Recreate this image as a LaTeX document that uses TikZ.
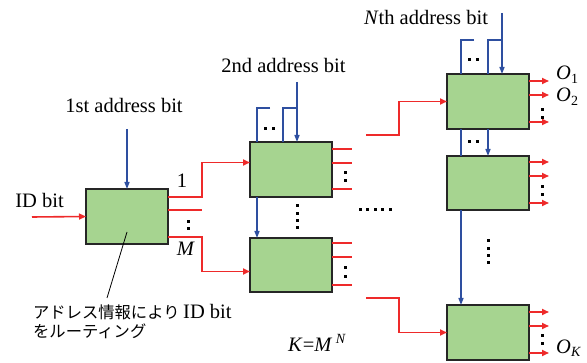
\documentclass[tikz,border=0pt]{standalone}
\usepackage{fontspec}
\setmainfont{Liberation Serif}
\newfontfamily\jp{Noto Sans CJK JP}
\usetikzlibrary{arrows.meta}
\definecolor{boxgreen}{HTML}{A6D490}
\definecolor{sigred}{HTML}{EE2A2A}
\definecolor{addrblue}{HTML}{2E4FA0}
\begin{document}
\begin{tikzpicture}[x=1pt,y=-1pt,
  swbox/.style={draw=black!85, line width=1.5pt, fill=boxgreen, minimum width=82pt, minimum height=55pt, inner sep=0pt, outer sep=0pt},
  redln/.style={draw=sigred, line width=1.6pt},
  redar/.style={redln, -{Triangle[length=7pt,width=6pt]}},
  blueln/.style={draw=addrblue, line width=1.4pt},
  bluear/.style={blueln, -{Triangle[length=7pt,width=5pt]}},
  lbl/.style={font=\fontsize{20.5}{24}\selectfont, inner sep=0pt},
  jptxt/.style={font=\jp\fontsize{16.3}{19}\selectfont, inner sep=0pt, anchor=base west}
]
\useasboundingbox (0,0) rectangle (587,363);

% boxes
\node[swbox] (b1) at (127,216.5) {};
\node[swbox] (b2) at (291,169.5) {};
\node[swbox, minimum height=54pt] (b3) at (291,265) {};
\node[swbox] (b4) at (488,101.5) {};
\node[swbox, minimum height=54pt] (b5) at (488,183) {};
\node[swbox] (b6) at (488,332.5) {};

% stage 1
\coordinate (idin) at (32,217);
\draw[redar] (idin) -- (b1.west);
\coordinate (a1) at (127,129);
\draw[bluear] (a1) -- (b1.north);
\draw[redar] (b1.east |- 0,197) -- (202,197) |- (b2.west |- 0,162.5);
\draw[redln] (b1.east |- 0,210) -- (202,210);
\draw[redar] (b1.east |- 0,237) -- (202,237) |- (b3.west |- 0,271.5);
\fill (186.5,220.5) rectangle ++(3,3);
\fill (186.5,227.5) rectangle ++(3,3);

% stage 2
\coordinate (a2) at (297,82);
\draw[bluear] (a2) -- (b2.north -| 297,0);
\draw[blueln] (297,108) -- (283,108) -- (b2.north -| 283,0);
\draw[blueln] (270,108) -- (257,108) -- (b2.north -| 257,0);
\draw[bluear] (b2.south -| 257,0) -- (b3.north -| 257,0);
\fill (263.5,127.5) rectangle ++(3,3);
\fill (271.5,127.5) rectangle ++(3,3);
\foreach \y in {149,163,189} \draw[redln] (b2.east |- 0,\y) -- (352,\y);
\foreach \y in {243,257,285} \draw[redln] (b3.east |- 0,\y) -- (352,\y);
\foreach \y in {173,181,268,277} \fill (343.5,\y-1.5) rectangle ++(3,3);
\foreach \y in {206,213.5,221,228} \fill (295.5,\y-1.5) rectangle ++(3,3);

% middle dots
\foreach \x in {360,367.5,375,382.5,390} \fill (\x-1.5,208.5) rectangle ++(3,3);

% stage N
\coordinate (aN) at (502,13);
\draw[bluear] (aN) -- (b4.north -| 502,0);
\draw[blueln] (502,40) -- (488,40) -- (b4.north -| 488,0);
\draw[blueln] (474,40) -- (461,40) -- (b4.north -| 461,0);
\fill (467.5,58.5) rectangle ++(3,3);
\fill (475.5,58.5) rectangle ++(3,3);
\draw[blueln] (b4.south -| 461,0) -- (b5.north -| 461,0);
\draw[bluear] (b4.south -| 488,0) -- (b5.north -| 488,0);
\fill (467.5,140.5) rectangle ++(3,3);
\fill (475.5,140.5) rectangle ++(3,3);
\draw[bluear] (b5.south -| 461,0) -- (b6.north -| 461,0);
\foreach \y in {241,248.5,256,263} \fill (486.5,\y-1.5) rectangle ++(3,3);

\coordinate (i4) at (366,135);
\draw[redar] (i4) -- (399,135) |- (b4.west);
\coordinate (i6) at (366,298);
\draw[redar] (i6) -- (399,298) |- (b6.west);

\foreach \y in {81,95,122} \draw[redar] (b4.east |- 0,\y) -- (549,\y);
\foreach \y in {162,176,203} \draw[redar] (b5.east |- 0,\y) -- (549,\y);
\foreach \y in {312,326,353} \draw[redar] (b6.east |- 0,\y) -- (549,\y);
\foreach \y in {110,117.5,187,195,336,344} \fill (540.5,\y-1.5) rectangle ++(3,3);

% leader
\coordinate (ls) at (127,232);
\coordinate (le) at (107,298);
\draw[line width=0.8pt] (ls) -- (le);

% labels
\node[lbl, anchor=base] (t1) at (124,113) {1st address bit};
\node[lbl, anchor=base] (t2) at (283.5,73) {2nd address bit};
\node[lbl, anchor=base] (tN) at (426,25) {\textit{N}th address bit};
\node[lbl, anchor=base] (tid) at (39.5,208) {ID bit};
\node[lbl, anchor=base] (l1) at (182,188) {1};
\node[lbl, anchor=base] (lM) at (186,256) {\textit{M}};
\node[lbl, anchor=base west] (o1) at (556,80) {\textit{O}\raisebox{-4pt}{\fontsize{14}{14}\selectfont 1}};
\node[lbl, anchor=base west] (o2) at (556,102) {\textit{O}\raisebox{-4pt}{\fontsize{14}{14}\selectfont 2}};
\node[lbl, anchor=base west] (ok) at (556,354) {\textit{O}\raisebox{-3pt}{\fontsize{14}{14}\selectfont\itshape K}};
\node[lbl, anchor=base west] (kmn) at (288,352) {\textit{K}=\textit{M}\,\raisebox{8pt}{\fontsize{14}{14}\selectfont\itshape N}};
\node[jptxt] (jp1) at (33,319) {アドレス情報により {\normalfont\fontsize{20.5}{24}\selectfont ID bit}};
\node[jptxt] (jp2) at (33,338) {をルーティング};
\end{tikzpicture}
\end{document}
